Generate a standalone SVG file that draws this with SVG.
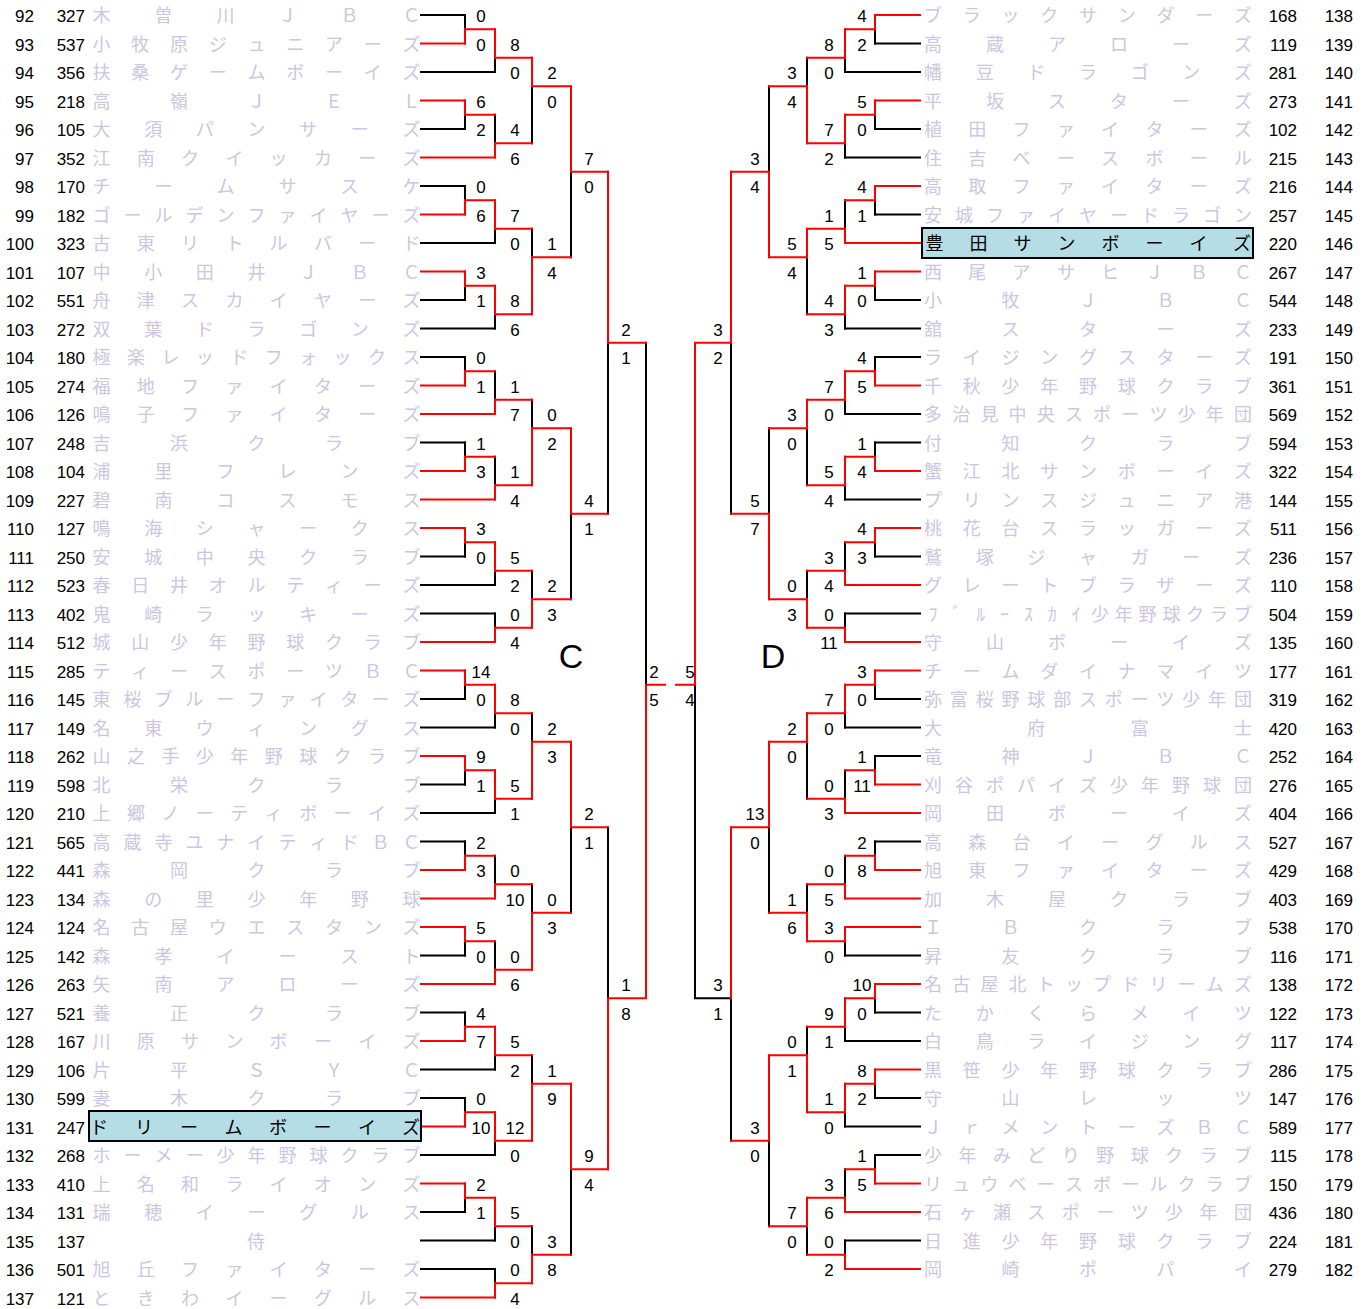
<svg xmlns="http://www.w3.org/2000/svg" width="1370" height="1309" viewBox="0 0 1370 1309">
<style>
.no{font-family:"Liberation Sans",Arial,sans-serif;font-size:17px;fill:#000;text-anchor:end}
.nm{font-family:"Noto Sans CJK JP","Noto Sans CJK SC",sans-serif;font-size:18px;fill:#cdc5e1;text-anchor:middle}
.nm.hl{fill:#000}
.sc{font-family:"Liberation Sans",Arial,sans-serif;font-size:17px;fill:#000;text-anchor:middle}
.blk{stroke:#000;stroke-width:2;fill:none;stroke-linecap:square}
.red{stroke:#f00;stroke-width:2;fill:none;stroke-linecap:square}
.box{fill:#b5dde6;stroke:#000;stroke-width:2}
.big{font-family:"Liberation Sans",Arial,sans-serif;font-size:34px;fill:#000;text-anchor:middle}
</style>
<rect width="1370" height="1309" fill="#fff"/>
<g id="connectors">
<path class="blk" d="M421 15H465M421 72H495M421 129H465M421 186H465M421 243H495M421 300H465M421 328.5H495M421 357H465M421 442.5H465M421 556.5H465M421 585H495M421 613.5H495M421 699H465M421 727.5H495M421 784.5H465M421 813H495M421 841.5H465M421 955.5H465M421 1012.5H465M421 1069.5H495M421 1098H465M421 1155H495M421 1212H465M421 1240.5H495M421 1269H495"/>
<path class="blk" d="M465 15V29.25M465 114.75V129M465 186V200.25M465 285.75V300M465 357V371.25M465 442.5V456.75M465 542.25V556.5M465 684.75V699M465 770.25V784.5M465 841.5V855.75M465 941.25V955.5M465 1012.5V1026.75M465 1098V1112.25M465 1197.75V1212"/>
<path class="blk" d="M495 57.75V72M495 114.75V143.25M495 228.75V243M495 314.25V328.5M495 371.25V399.75M495 456.75V485.25M495 570.75V585M495 613.5V627.75M495 713.25V727.5M495 798.75V813M495 855.75V884.25M495 941.25V969.75M495 1055.25V1069.5M495 1140.75V1155M495 1226.25V1240.5M495 1269V1283.25"/>
<path class="blk" d="M532 86.25V143.25M532 228.75V257.25M532 399.75V428.25M532 570.75V599.25M532 713.25V741.75M532 884.25V912.75M532 1055.25V1083.75M532 1226.25V1254.75"/>
<path class="blk" d="M571 171.75V257.25M571 513.75V599.25M571 827.25V912.75M571 1169.25V1254.75M608 342.75V513.75M608 827.25V998.25M646 342.75V684.75"/>
<path class="blk" d="M920 43.5H875M920 72H845M920 129H875M920 157.5H845M920 214.5H875M920 300H875M920 328.5H845M920 357H875M920 414H845M920 442.5H875M920 499.5H845M920 556.5H875M920 613.5H845M920 699H875M920 727.5H845M920 756H875M920 841.5H875M920 955.5H845M920 1012.5H875M920 1041H845M920 1098H875M920 1126.5H845M920 1155H875M920 1240.5H845"/>
<path class="blk" d="M875 29.25V43.5M875 114.75V129M875 200.25V214.5M875 285.75V300M875 357V371.25M875 442.5V456.75M875 542.25V556.5M875 684.75V699M875 756V770.25M875 841.5V855.75M875 998.25V1012.5M875 1083.75V1098M875 1155V1169.25"/>
<path class="blk" d="M845 57.75V72M845 143.25V157.5M845 200.25V228.75M845 314.25V328.5M845 399.75V414M845 485.25V499.5M845 542.25V570.75M845 613.5V627.75M845 713.25V727.5M845 770.25V798.75M845 855.75V884.25M845 941.25V955.5M845 1026.75V1041M845 1112.25V1126.5M845 1169.25V1197.75M845 1240.5V1254.75"/>
<path class="blk" d="M807 57.75V86.25M807 257.25V314.25M807 428.25V485.25M807 570.75V599.25M807 741.75V798.75M807 884.25V912.75M807 1026.75V1055.25M807 1226.25V1254.75"/>
<path class="blk" d="M769 86.25V171.75M769 428.25V513.75M769 827.25V912.75M769 1140.75V1226.25M731 342.75V513.75M731 998.25V1140.75M731 998.25H695M695 684.75V998.25"/>
<path class="red" d="M421 43.5H465M421 100.5H465M421 157.5H495M421 214.5H465M421 271.5H465M421 385.5H465M421 414H495M421 471H465M421 499.5H495M421 528H465M421 642H495M421 670.5H465M421 756H465M421 870H465M421 898.5H495M421 927H465M421 984H495M421 1041H465M421 1126.5H465M421 1183.5H465M421 1297.5H495"/>
<path class="red" d="M465 29.25V43.5M465 100.5V114.75M465 200.25V214.5M465 271.5V285.75M465 371.25V385.5M465 456.75V471M465 528V542.25M465 670.5V684.75M465 756V770.25M465 855.75V870M465 927V941.25M465 1026.75V1041M465 1112.25V1126.5M465 1183.5V1197.75"/>
<path class="red" d="M465 29.25H495M465 114.75H495M465 200.25H495M465 285.75H495M465 371.25H495M465 456.75H495M465 542.25H495M465 684.75H495M465 770.25H495M465 855.75H495M465 941.25H495M465 1026.75H495M465 1112.25H495M465 1197.75H495"/>
<path class="red" d="M495 29.25V57.75M495 143.25V157.5M495 200.25V228.75M495 285.75V314.25M495 399.75V414M495 485.25V499.5M495 542.25V570.75M495 627.75V642M495 684.75V713.25M495 770.25V798.75M495 884.25V898.5M495 969.75V984M495 1026.75V1055.25M495 1112.25V1140.75M495 1197.75V1226.25M495 1283.25V1297.5"/>
<path class="red" d="M495 57.75H532M495 143.25H532M495 228.75H532M495 314.25H532M495 399.75H532M495 485.25H532M495 570.75H532M495 627.75H532M495 713.25H532M495 798.75H532M495 884.25H532M495 969.75H532M495 1055.25H532M495 1140.75H532M495 1226.25H532M495 1283.25H532"/>
<path class="red" d="M532 57.75V86.25M532 257.25V314.25M532 428.25V485.25M532 599.25V627.75M532 741.75V798.75M532 912.75V969.75M532 1083.75V1140.75M532 1254.75V1283.25"/>
<path class="red" d="M532 86.25H571M532 257.25H571M532 428.25H571M532 599.25H571M532 741.75H571M532 912.75H571M532 1083.75H571M532 1254.75H571"/>
<path class="red" d="M571 86.25V171.75M571 428.25V513.75M571 741.75V827.25M571 1083.75V1169.25M571 171.75H608M571 513.75H608M571 827.25H608M571 1169.25H608"/>
<path class="red" d="M608 171.75V342.75M608 998.25V1169.25M608 342.75H646M608 998.25H646M646 684.75V998.25M646 684.75H665"/>
<path class="red" d="M920 15H875M920 100.5H875M920 186H875M920 243H845M920 271.5H875M920 385.5H875M920 471H875M920 528H875M920 585H845M920 642H845M920 670.5H875M920 784.5H875M920 813H845M920 870H875M920 898.5H845M920 927H845M920 984H875M920 1069.5H875M920 1183.5H875M920 1212H845M920 1269H845"/>
<path class="red" d="M875 15V29.25M875 100.5V114.75M875 186V200.25M875 271.5V285.75M875 371.25V385.5M875 456.75V471M875 528V542.25M875 670.5V684.75M875 770.25V784.5M875 855.75V870M875 984V998.25M875 1069.5V1083.75M875 1169.25V1183.5"/>
<path class="red" d="M875 29.25H845M875 114.75H845M875 200.25H845M875 285.75H845M875 371.25H845M875 456.75H845M875 542.25H845M875 684.75H845M875 770.25H845M875 855.75H845M875 998.25H845M875 1083.75H845M875 1169.25H845"/>
<path class="red" d="M845 29.25V57.75M845 114.75V143.25M845 228.75V243M845 285.75V314.25M845 371.25V399.75M845 456.75V485.25M845 570.75V585M845 627.75V642M845 684.75V713.25M845 798.75V813M845 884.25V898.5M845 927V941.25M845 998.25V1026.75M845 1083.75V1112.25M845 1197.75V1212M845 1254.75V1269"/>
<path class="red" d="M845 57.75H807M845 143.25H807M845 228.75H807M845 314.25H807M845 399.75H807M845 485.25H807M845 570.75H807M845 627.75H807M845 713.25H807M845 798.75H807M845 884.25H807M845 941.25H807M845 1026.75H807M845 1112.25H807M845 1197.75H807M845 1254.75H807"/>
<path class="red" d="M807 86.25V143.25M807 228.75V257.25M807 399.75V428.25M807 599.25V627.75M807 713.25V741.75M807 912.75V941.25M807 1055.25V1112.25M807 1197.75V1226.25"/>
<path class="red" d="M807 86.25H769M807 257.25H769M807 428.25H769M807 599.25H769M807 741.75H769M807 912.75H769M807 1055.25H769M807 1226.25H769"/>
<path class="red" d="M769 171.75V257.25M769 513.75V599.25M769 741.75V827.25M769 1055.25V1140.75M769 171.75H731M769 513.75H731M769 827.25H731M769 1140.75H731"/>
<path class="red" d="M731 171.75V342.75M731 827.25V998.25M731 342.75H695M695 342.75V684.75M695 684.75H676"/>
</g>
<g id="scores">
<text class="sc" x="481" y="22">0</text><text class="sc" x="481" y="50.5">0</text><text class="sc" x="481" y="107.5">6</text><text class="sc" x="481" y="136">2</text><text class="sc" x="481" y="193">0</text><text class="sc" x="481" y="221.5">6</text><text class="sc" x="481" y="278.5">3</text><text class="sc" x="481" y="307">1</text><text class="sc" x="481" y="364">0</text><text class="sc" x="481" y="392.5">1</text><text class="sc" x="481" y="449.5">1</text><text class="sc" x="481" y="478">3</text><text class="sc" x="481" y="535">3</text><text class="sc" x="481" y="563.5">0</text><text class="sc" x="481" y="677.5">14</text><text class="sc" x="481" y="706">0</text><text class="sc" x="481" y="763">9</text><text class="sc" x="481" y="791.5">1</text><text class="sc" x="481" y="848.5">2</text><text class="sc" x="481" y="877">3</text><text class="sc" x="481" y="934">5</text><text class="sc" x="481" y="962.5">0</text><text class="sc" x="481" y="1019.5">4</text><text class="sc" x="481" y="1048">7</text><text class="sc" x="481" y="1105">0</text><text class="sc" x="481" y="1133.5">10</text><text class="sc" x="481" y="1190.5">2</text><text class="sc" x="481" y="1219">1</text>
<text class="sc" x="515" y="50.5">8</text><text class="sc" x="515" y="79">0</text><text class="sc" x="515" y="136">4</text><text class="sc" x="515" y="164.5">6</text><text class="sc" x="515" y="221.5">7</text><text class="sc" x="515" y="250">0</text><text class="sc" x="515" y="307">8</text><text class="sc" x="515" y="335.5">6</text><text class="sc" x="515" y="392.5">1</text><text class="sc" x="515" y="421">7</text><text class="sc" x="515" y="478">1</text><text class="sc" x="515" y="506.5">4</text><text class="sc" x="515" y="563.5">5</text><text class="sc" x="515" y="592">2</text><text class="sc" x="515" y="620.5">0</text><text class="sc" x="515" y="649">4</text><text class="sc" x="515" y="706">8</text><text class="sc" x="515" y="734.5">0</text><text class="sc" x="515" y="791.5">5</text><text class="sc" x="515" y="820">1</text><text class="sc" x="515" y="877">0</text><text class="sc" x="515" y="905.5">10</text><text class="sc" x="515" y="962.5">0</text><text class="sc" x="515" y="991">6</text><text class="sc" x="515" y="1048">5</text><text class="sc" x="515" y="1076.5">2</text><text class="sc" x="515" y="1133.5">12</text><text class="sc" x="515" y="1162">0</text><text class="sc" x="515" y="1219">5</text><text class="sc" x="515" y="1247.5">0</text><text class="sc" x="515" y="1276">0</text><text class="sc" x="515" y="1304.5">4</text>
<text class="sc" x="552" y="79">2</text><text class="sc" x="552" y="107.5">0</text><text class="sc" x="552" y="250">1</text><text class="sc" x="552" y="278.5">4</text><text class="sc" x="552" y="421">0</text><text class="sc" x="552" y="449.5">2</text><text class="sc" x="552" y="592">2</text><text class="sc" x="552" y="620.5">3</text><text class="sc" x="552" y="734.5">2</text><text class="sc" x="552" y="763">3</text><text class="sc" x="552" y="905.5">0</text><text class="sc" x="552" y="934">3</text><text class="sc" x="552" y="1076.5">1</text><text class="sc" x="552" y="1105">9</text><text class="sc" x="552" y="1247.5">3</text><text class="sc" x="552" y="1276">8</text>
<text class="sc" x="589" y="164.5">7</text><text class="sc" x="589" y="193">0</text><text class="sc" x="589" y="506.5">4</text><text class="sc" x="589" y="535">1</text><text class="sc" x="589" y="820">2</text><text class="sc" x="589" y="848.5">1</text><text class="sc" x="589" y="1162">9</text><text class="sc" x="589" y="1190.5">4</text>
<text class="sc" x="626" y="335.5">2</text><text class="sc" x="626" y="364">1</text><text class="sc" x="626" y="991">1</text><text class="sc" x="626" y="1019.5">8</text>
<text class="sc" x="654" y="677.5">2</text><text class="sc" x="654" y="706">5</text>
<text class="sc" x="862" y="22">4</text><text class="sc" x="862" y="50.5">2</text><text class="sc" x="862" y="107.5">5</text><text class="sc" x="862" y="136">0</text><text class="sc" x="862" y="193">4</text><text class="sc" x="862" y="221.5">1</text><text class="sc" x="862" y="278.5">1</text><text class="sc" x="862" y="307">0</text><text class="sc" x="862" y="364">4</text><text class="sc" x="862" y="392.5">5</text><text class="sc" x="862" y="449.5">1</text><text class="sc" x="862" y="478">4</text><text class="sc" x="862" y="535">4</text><text class="sc" x="862" y="563.5">3</text><text class="sc" x="862" y="677.5">3</text><text class="sc" x="862" y="706">0</text><text class="sc" x="862" y="763">1</text><text class="sc" x="862" y="791.5">11</text><text class="sc" x="862" y="848.5">2</text><text class="sc" x="862" y="877">8</text><text class="sc" x="862" y="991">10</text><text class="sc" x="862" y="1019.5">0</text><text class="sc" x="862" y="1076.5">8</text><text class="sc" x="862" y="1105">2</text><text class="sc" x="862" y="1162">1</text><text class="sc" x="862" y="1190.5">5</text>
<text class="sc" x="829" y="50.5">8</text><text class="sc" x="829" y="79">0</text><text class="sc" x="829" y="136">7</text><text class="sc" x="829" y="164.5">2</text><text class="sc" x="829" y="221.5">1</text><text class="sc" x="829" y="250">5</text><text class="sc" x="829" y="307">4</text><text class="sc" x="829" y="335.5">3</text><text class="sc" x="829" y="392.5">7</text><text class="sc" x="829" y="421">0</text><text class="sc" x="829" y="478">5</text><text class="sc" x="829" y="506.5">4</text><text class="sc" x="829" y="563.5">3</text><text class="sc" x="829" y="592">4</text><text class="sc" x="829" y="620.5">0</text><text class="sc" x="829" y="649">11</text><text class="sc" x="829" y="706">7</text><text class="sc" x="829" y="734.5">0</text><text class="sc" x="829" y="791.5">0</text><text class="sc" x="829" y="820">3</text><text class="sc" x="829" y="877">0</text><text class="sc" x="829" y="905.5">5</text><text class="sc" x="829" y="934">3</text><text class="sc" x="829" y="962.5">0</text><text class="sc" x="829" y="1019.5">9</text><text class="sc" x="829" y="1048">1</text><text class="sc" x="829" y="1105">1</text><text class="sc" x="829" y="1133.5">0</text><text class="sc" x="829" y="1190.5">3</text><text class="sc" x="829" y="1219">6</text><text class="sc" x="829" y="1247.5">0</text><text class="sc" x="829" y="1276">2</text>
<text class="sc" x="792" y="79">3</text><text class="sc" x="792" y="107.5">4</text><text class="sc" x="792" y="250">5</text><text class="sc" x="792" y="278.5">4</text><text class="sc" x="792" y="421">3</text><text class="sc" x="792" y="449.5">0</text><text class="sc" x="792" y="592">0</text><text class="sc" x="792" y="620.5">3</text><text class="sc" x="792" y="734.5">2</text><text class="sc" x="792" y="763">0</text><text class="sc" x="792" y="905.5">1</text><text class="sc" x="792" y="934">6</text><text class="sc" x="792" y="1048">0</text><text class="sc" x="792" y="1076.5">1</text><text class="sc" x="792" y="1219">7</text><text class="sc" x="792" y="1247.5">0</text>
<text class="sc" x="755" y="164.5">3</text><text class="sc" x="755" y="193">4</text><text class="sc" x="755" y="506.5">5</text><text class="sc" x="755" y="535">7</text><text class="sc" x="755" y="820">13</text><text class="sc" x="755" y="848.5">0</text><text class="sc" x="755" y="1133.5">3</text><text class="sc" x="755" y="1162">0</text>
<text class="sc" x="718" y="335.5">3</text><text class="sc" x="718" y="364">2</text><text class="sc" x="718" y="991">3</text><text class="sc" x="718" y="1019.5">1</text>
<text class="sc" x="690" y="677.5">5</text><text class="sc" x="690" y="706">4</text>
</g>
<text class="big" x="571" y="668">C</text>
<text class="big" x="773" y="668">D</text>
<g id="left-teams">
<g id="t92"><text class="no" x="34" y="22">92</text><text class="no" x="85" y="22">327</text><text class="nm" x="101.5 163.5 225.5 287.5 349.5 411.5" y="22">木曽川ＪＢＣ</text></g>
<g id="t93"><text class="no" x="34" y="50.5">93</text><text class="no" x="85" y="50.5">537</text><text class="nm" x="101.5 140.3 179 217.8 256.5 295.3 334 372.8 411.5" y="50.5">小牧原ジュニアーズ</text></g>
<g id="t94"><text class="no" x="34" y="79">94</text><text class="no" x="85" y="79">356</text><text class="nm" x="101.5 140.3 179 217.8 256.5 295.3 334 372.8 411.5" y="79">扶桑ゲームボーイズ</text></g>
<g id="t95"><text class="no" x="34" y="107.5">95</text><text class="no" x="85" y="107.5">218</text><text class="nm" x="101.5 179 256.5 334 411.5" y="107.5">高嶺ＪＥＬ</text></g>
<g id="t96"><text class="no" x="34" y="136">96</text><text class="no" x="85" y="136">105</text><text class="nm" x="101.5 153.2 204.8 256.5 308.2 359.8 411.5" y="136">大須パンサーズ</text></g>
<g id="t97"><text class="no" x="34" y="164.5">97</text><text class="no" x="85" y="164.5">352</text><text class="nm" x="101.5 145.8 190.1 234.4 278.6 322.9 367.2 411.5" y="164.5">江南クイッカーズ</text></g>
<g id="t98"><text class="no" x="34" y="193">98</text><text class="no" x="85" y="193">170</text><text class="nm" x="101.5 163.5 225.5 287.5 349.5 411.5" y="193">チームサスケ</text></g>
<g id="t99"><text class="no" x="34" y="221.5">99</text><text class="no" x="85" y="221.5">182</text><text class="nm" x="101.5 132.5 163.5 194.5 225.5 256.5 287.5 318.5 349.5 380.5 411.5" y="221.5">ゴールデンファイヤーズ</text></g>
<g id="t100"><text class="no" x="34" y="250">100</text><text class="no" x="85" y="250">323</text><text class="nm" x="101.5 145.8 190.1 234.4 278.6 322.9 367.2 411.5" y="250">古東リトルバード</text></g>
<g id="t101"><text class="no" x="34" y="278.5">101</text><text class="no" x="85" y="278.5">107</text><text class="nm" x="101.5 153.2 204.8 256.5 308.2 359.8 411.5" y="278.5">中小田井ＪＢＣ</text></g>
<g id="t102"><text class="no" x="34" y="307">102</text><text class="no" x="85" y="307">551</text><text class="nm" x="101.5 145.8 190.1 234.4 278.6 322.9 367.2 411.5" y="307">舟津スカイヤーズ</text></g>
<g id="t103"><text class="no" x="34" y="335.5">103</text><text class="no" x="85" y="335.5">272</text><text class="nm" x="101.5 153.2 204.8 256.5 308.2 359.8 411.5" y="335.5">双葉ドラゴンズ</text></g>
<g id="t104"><text class="no" x="34" y="364">104</text><text class="no" x="85" y="364">180</text><text class="nm" x="101.5 135.9 170.4 204.8 239.3 273.7 308.2 342.6 377.1 411.5" y="364">極楽レッドフォックス</text></g>
<g id="t105"><text class="no" x="34" y="392.5">105</text><text class="no" x="85" y="392.5">274</text><text class="nm" x="101.5 145.8 190.1 234.4 278.6 322.9 367.2 411.5" y="392.5">福地ファイターズ</text></g>
<g id="t106"><text class="no" x="34" y="421">106</text><text class="no" x="85" y="421">126</text><text class="nm" x="101.5 145.8 190.1 234.4 278.6 322.9 367.2 411.5" y="421">鳴子ファイターズ</text></g>
<g id="t107"><text class="no" x="34" y="449.5">107</text><text class="no" x="85" y="449.5">248</text><text class="nm" x="101.5 179 256.5 334 411.5" y="449.5">吉浜クラブ</text></g>
<g id="t108"><text class="no" x="34" y="478">108</text><text class="no" x="85" y="478">104</text><text class="nm" x="101.5 163.5 225.5 287.5 349.5 411.5" y="478">浦里フレンズ</text></g>
<g id="t109"><text class="no" x="34" y="506.5">109</text><text class="no" x="85" y="506.5">227</text><text class="nm" x="101.5 163.5 225.5 287.5 349.5 411.5" y="506.5">碧南コスモス</text></g>
<g id="t110"><text class="no" x="34" y="535">110</text><text class="no" x="85" y="535">127</text><text class="nm" x="101.5 153.2 204.8 256.5 308.2 359.8 411.5" y="535">鳴海シャークス</text></g>
<g id="t111"><text class="no" x="34" y="563.5">111</text><text class="no" x="85" y="563.5">250</text><text class="nm" x="101.5 153.2 204.8 256.5 308.2 359.8 411.5" y="563.5">安城中央クラブ</text></g>
<g id="t112"><text class="no" x="34" y="592">112</text><text class="no" x="85" y="592">523</text><text class="nm" x="101.5 140.3 179 217.8 256.5 295.3 334 372.8 411.5" y="592">春日井オルティーズ</text></g>
<g id="t113"><text class="no" x="34" y="620.5">113</text><text class="no" x="85" y="620.5">402</text><text class="nm" x="101.5 153.2 204.8 256.5 308.2 359.8 411.5" y="620.5">鬼崎ラッキーズ</text></g>
<g id="t114"><text class="no" x="34" y="649">114</text><text class="no" x="85" y="649">512</text><text class="nm" x="101.5 140.3 179 217.8 256.5 295.3 334 372.8 411.5" y="649">城山少年野球クラブ</text></g>
<g id="t115"><text class="no" x="34" y="677.5">115</text><text class="no" x="85" y="677.5">285</text><text class="nm" x="101.5 140.3 179 217.8 256.5 295.3 334 372.8 411.5" y="677.5">ティースポーツＢＣ</text></g>
<g id="t116"><text class="no" x="34" y="706">116</text><text class="no" x="85" y="706">145</text><text class="nm" x="101.5 132.5 163.5 194.5 225.5 256.5 287.5 318.5 349.5 380.5 411.5" y="706">東桜ブルーファイターズ</text></g>
<g id="t117"><text class="no" x="34" y="734.5">117</text><text class="no" x="85" y="734.5">149</text><text class="nm" x="101.5 153.2 204.8 256.5 308.2 359.8 411.5" y="734.5">名東ウィングス</text></g>
<g id="t118"><text class="no" x="34" y="763">118</text><text class="no" x="85" y="763">262</text><text class="nm" x="101.5 135.9 170.4 204.8 239.3 273.7 308.2 342.6 377.1 411.5" y="763">山之手少年野球クラブ</text></g>
<g id="t119"><text class="no" x="34" y="791.5">119</text><text class="no" x="85" y="791.5">598</text><text class="nm" x="101.5 179 256.5 334 411.5" y="791.5">北栄クラブ</text></g>
<g id="t120"><text class="no" x="34" y="820">120</text><text class="no" x="85" y="820">210</text><text class="nm" x="101.5 135.9 170.4 204.8 239.3 273.7 308.2 342.6 377.1 411.5" y="820">上郷ノーティボーイズ</text></g>
<g id="t121"><text class="no" x="34" y="848.5">121</text><text class="no" x="85" y="848.5">565</text><text class="nm" x="101.5 132.5 163.5 194.5 225.5 256.5 287.5 318.5 349.5 380.5 411.5" y="848.5">高蔵寺ユナイティドＢＣ</text></g>
<g id="t122"><text class="no" x="34" y="877">122</text><text class="no" x="85" y="877">441</text><text class="nm" x="101.5 179 256.5 334 411.5" y="877">森岡クラブ</text></g>
<g id="t123"><text class="no" x="34" y="905.5">123</text><text class="no" x="85" y="905.5">134</text><text class="nm" x="101.5 153.2 204.8 256.5 308.2 359.8 411.5" y="905.5">森の里少年野球</text></g>
<g id="t124"><text class="no" x="34" y="934">124</text><text class="no" x="85" y="934">124</text><text class="nm" x="101.5 140.3 179 217.8 256.5 295.3 334 372.8 411.5" y="934">名古屋ウエスタンズ</text></g>
<g id="t125"><text class="no" x="34" y="962.5">125</text><text class="no" x="85" y="962.5">142</text><text class="nm" x="101.5 163.5 225.5 287.5 349.5 411.5" y="962.5">森孝イースト</text></g>
<g id="t126"><text class="no" x="34" y="991">126</text><text class="no" x="85" y="991">263</text><text class="nm" x="101.5 163.5 225.5 287.5 349.5 411.5" y="991">矢南アローズ</text></g>
<g id="t127"><text class="no" x="34" y="1019.5">127</text><text class="no" x="85" y="1019.5">521</text><text class="nm" x="101.5 179 256.5 334 411.5" y="1019.5">養正クラブ</text></g>
<g id="t128"><text class="no" x="34" y="1048">128</text><text class="no" x="85" y="1048">167</text><text class="nm" x="101.5 145.8 190.1 234.4 278.6 322.9 367.2 411.5" y="1048">川原サンボーイズ</text></g>
<g id="t129"><text class="no" x="34" y="1076.5">129</text><text class="no" x="85" y="1076.5">106</text><text class="nm" x="101.5 179 256.5 334 411.5" y="1076.5">片平ＳＹＣ</text></g>
<g id="t130"><text class="no" x="34" y="1105">130</text><text class="no" x="85" y="1105">599</text><text class="nm" x="101.5 179 256.5 334 411.5" y="1105">妻木クラブ</text></g>
<g id="t131"><text class="no" x="34" y="1133.5">131</text><text class="no" x="85" y="1133.5">247</text><rect class="box" x="89" y="1111" width="332" height="30"/><text class="nm hl" x="99 144 189 233.5 278 322.5 367 411" y="1133.5">ドリームボーイズ</text></g>
<g id="t132"><text class="no" x="34" y="1162">132</text><text class="no" x="85" y="1162">268</text><text class="nm" x="101.5 132.5 163.5 194.5 225.5 256.5 287.5 318.5 349.5 380.5 411.5" y="1162">ホーメー少年野球クラブ</text></g>
<g id="t133"><text class="no" x="34" y="1190.5">133</text><text class="no" x="85" y="1190.5">410</text><text class="nm" x="101.5 145.8 190.1 234.4 278.6 322.9 367.2 411.5" y="1190.5">上名和ライオンズ</text></g>
<g id="t134"><text class="no" x="34" y="1219">134</text><text class="no" x="85" y="1219">131</text><text class="nm" x="101.5 153.2 204.8 256.5 308.2 359.8 411.5" y="1219">瑞穂イーグルス</text></g>
<g id="t135"><text class="no" x="34" y="1247.5">135</text><text class="no" x="85" y="1247.5">137</text><text class="nm" x="256" y="1247.5">侍</text></g>
<g id="t136"><text class="no" x="34" y="1276">136</text><text class="no" x="85" y="1276">501</text><text class="nm" x="101.5 145.8 190.1 234.4 278.6 322.9 367.2 411.5" y="1276">旭丘ファイターズ</text></g>
<g id="t137"><text class="no" x="34" y="1304.5">137</text><text class="no" x="85" y="1304.5">121</text><text class="nm" x="101.5 145.8 190.1 234.4 278.6 322.9 367.2 411.5" y="1304.5">ときわイーグルス</text></g>
</g>
<g id="right-teams">
<g id="t138"><text class="nm" x="933 971.8 1010.5 1049.3 1088 1126.8 1165.5 1204.3 1243" y="22">ブラックサンダーズ</text><text class="no" x="1297" y="22">168</text><text class="no" x="1353" y="22">138</text></g>
<g id="t139"><text class="nm" x="933 995 1057 1119 1181 1243" y="50.5">高蔵アローズ</text><text class="no" x="1297" y="50.5">119</text><text class="no" x="1353" y="50.5">139</text></g>
<g id="t140"><text class="nm" x="933 984.7 1036.3 1088 1139.7 1191.3 1243" y="79">幡豆ドラゴンズ</text><text class="no" x="1297" y="79">281</text><text class="no" x="1353" y="79">140</text></g>
<g id="t141"><text class="nm" x="933 995 1057 1119 1181 1243" y="107.5">平坂スターズ</text><text class="no" x="1297" y="107.5">273</text><text class="no" x="1353" y="107.5">141</text></g>
<g id="t142"><text class="nm" x="933 977.3 1021.6 1065.9 1110.1 1154.4 1198.7 1243" y="136">植田ファイターズ</text><text class="no" x="1297" y="136">102</text><text class="no" x="1353" y="136">142</text></g>
<g id="t143"><text class="nm" x="933 977.3 1021.6 1065.9 1110.1 1154.4 1198.7 1243" y="164.5">住吉ベースボール</text><text class="no" x="1297" y="164.5">215</text><text class="no" x="1353" y="164.5">143</text></g>
<g id="t144"><text class="nm" x="933 977.3 1021.6 1065.9 1110.1 1154.4 1198.7 1243" y="193">高取ファイターズ</text><text class="no" x="1297" y="193">216</text><text class="no" x="1353" y="193">144</text></g>
<g id="t145"><text class="nm" x="933 964 995 1026 1057 1088 1119 1150 1181 1212 1243" y="221.5">安城ファイヤードラゴン</text><text class="no" x="1297" y="221.5">257</text><text class="no" x="1353" y="221.5">145</text></g>
<g id="t146"><rect class="box" x="922" y="228" width="331" height="30"/><text class="nm hl" x="934.5 978.5 1022.5 1066.5 1110.5 1154.5 1198.5 1242" y="250">豊田サンボーイズ</text><text class="no" x="1297" y="250">220</text><text class="no" x="1353" y="250">146</text></g>
<g id="t147"><text class="nm" x="933 977.3 1021.6 1065.9 1110.1 1154.4 1198.7 1243" y="278.5">西尾アサヒＪＢＣ</text><text class="no" x="1297" y="278.5">267</text><text class="no" x="1353" y="278.5">147</text></g>
<g id="t148"><text class="nm" x="933 1010.5 1088 1165.5 1243" y="307">小牧ＪＢＣ</text><text class="no" x="1297" y="307">544</text><text class="no" x="1353" y="307">148</text></g>
<g id="t149"><text class="nm" x="933 1010.5 1088 1165.5 1243" y="335.5">舘スターズ</text><text class="no" x="1297" y="335.5">233</text><text class="no" x="1353" y="335.5">149</text></g>
<g id="t150"><text class="nm" x="933 971.8 1010.5 1049.3 1088 1126.8 1165.5 1204.3 1243" y="364">ライジングスターズ</text><text class="no" x="1297" y="364">191</text><text class="no" x="1353" y="364">150</text></g>
<g id="t151"><text class="nm" x="933 971.8 1010.5 1049.3 1088 1126.8 1165.5 1204.3 1243" y="392.5">千秋少年野球クラブ</text><text class="no" x="1297" y="392.5">361</text><text class="no" x="1353" y="392.5">151</text></g>
<g id="t152"><text class="nm" x="933 961.2 989.4 1017.5 1045.7 1073.9 1102.1 1130.3 1158.4 1186.6 1214.8 1243" y="421">多治見中央スポーツ少年団</text><text class="no" x="1297" y="421">569</text><text class="no" x="1353" y="421">152</text></g>
<g id="t153"><text class="nm" x="933 1010.5 1088 1165.5 1243" y="449.5">付知クラブ</text><text class="no" x="1297" y="449.5">594</text><text class="no" x="1353" y="449.5">153</text></g>
<g id="t154"><text class="nm" x="933 971.8 1010.5 1049.3 1088 1126.8 1165.5 1204.3 1243" y="478">蟹江北サンボーイズ</text><text class="no" x="1297" y="478">322</text><text class="no" x="1353" y="478">154</text></g>
<g id="t155"><text class="nm" x="933 971.8 1010.5 1049.3 1088 1126.8 1165.5 1204.3 1243" y="506.5">プリンスジュニア港</text><text class="no" x="1297" y="506.5">144</text><text class="no" x="1353" y="506.5">155</text></g>
<g id="t156"><text class="nm" x="933 971.8 1010.5 1049.3 1088 1126.8 1165.5 1204.3 1243" y="535">桃花台スラッガーズ</text><text class="no" x="1297" y="535">511</text><text class="no" x="1353" y="535">156</text></g>
<g id="t157"><text class="nm" x="933 984.7 1036.3 1088 1139.7 1191.3 1243" y="563.5">鷲塚ジャガーズ</text><text class="no" x="1297" y="563.5">236</text><text class="no" x="1353" y="563.5">157</text></g>
<g id="t158"><text class="nm" x="933 971.8 1010.5 1049.3 1088 1126.8 1165.5 1204.3 1243" y="592">グレートブラザーズ</text><text class="no" x="1297" y="592">110</text><text class="no" x="1353" y="592">158</text></g>
<g id="t159"><text class="nm" x="933 956.8 980.7 1004.5 1028.4 1052.2 1076.1 1099.9 1123.8 1147.6 1171.4 1195.3 1219.1 1243" y="620.5">ﾌﾞﾙｰｽｶｲ少年野球クラブ</text><text class="no" x="1297" y="620.5">504</text><text class="no" x="1353" y="620.5">159</text></g>
<g id="t160"><text class="nm" x="933 995 1057 1119 1181 1243" y="649">守山ボーイズ</text><text class="no" x="1297" y="649">135</text><text class="no" x="1353" y="649">160</text></g>
<g id="t161"><text class="nm" x="933 971.8 1010.5 1049.3 1088 1126.8 1165.5 1204.3 1243" y="677.5">チームダイナマイツ</text><text class="no" x="1297" y="677.5">177</text><text class="no" x="1353" y="677.5">161</text></g>
<g id="t162"><text class="nm" x="933 958.8 984.7 1010.5 1036.3 1062.2 1088 1113.8 1139.7 1165.5 1191.3 1217.2 1243" y="706">弥富桜野球部スポーツ少年団</text><text class="no" x="1297" y="706">319</text><text class="no" x="1353" y="706">162</text></g>
<g id="t163"><text class="nm" x="933 1036.3 1139.7 1243" y="734.5">大府富士</text><text class="no" x="1297" y="734.5">420</text><text class="no" x="1353" y="734.5">163</text></g>
<g id="t164"><text class="nm" x="933 1010.5 1088 1165.5 1243" y="763">竜神ＪＢＣ</text><text class="no" x="1297" y="763">252</text><text class="no" x="1353" y="763">164</text></g>
<g id="t165"><text class="nm" x="933 964 995 1026 1057 1088 1119 1150 1181 1212 1243" y="791.5">刈谷ポパイズ少年野球団</text><text class="no" x="1297" y="791.5">276</text><text class="no" x="1353" y="791.5">165</text></g>
<g id="t166"><text class="nm" x="933 995 1057 1119 1181 1243" y="820">岡田ボーイズ</text><text class="no" x="1297" y="820">404</text><text class="no" x="1353" y="820">166</text></g>
<g id="t167"><text class="nm" x="933 977.3 1021.6 1065.9 1110.1 1154.4 1198.7 1243" y="848.5">高森台イーグルス</text><text class="no" x="1297" y="848.5">527</text><text class="no" x="1353" y="848.5">167</text></g>
<g id="t168"><text class="nm" x="933 977.3 1021.6 1065.9 1110.1 1154.4 1198.7 1243" y="877">旭東ファイターズ</text><text class="no" x="1297" y="877">429</text><text class="no" x="1353" y="877">168</text></g>
<g id="t169"><text class="nm" x="933 995 1057 1119 1181 1243" y="905.5">加木屋クラブ</text><text class="no" x="1297" y="905.5">403</text><text class="no" x="1353" y="905.5">169</text></g>
<g id="t170"><text class="nm" x="933 1010.5 1088 1165.5 1243" y="934">ＩＢクラブ</text><text class="no" x="1297" y="934">538</text><text class="no" x="1353" y="934">170</text></g>
<g id="t171"><text class="nm" x="933 1010.5 1088 1165.5 1243" y="962.5">昇友クラブ</text><text class="no" x="1297" y="962.5">116</text><text class="no" x="1353" y="962.5">171</text></g>
<g id="t172"><text class="nm" x="933 961.2 989.4 1017.5 1045.7 1073.9 1102.1 1130.3 1158.4 1186.6 1214.8 1243" y="991">名古屋北トップドリームズ</text><text class="no" x="1297" y="991">138</text><text class="no" x="1353" y="991">172</text></g>
<g id="t173"><text class="nm" x="933 984.7 1036.3 1088 1139.7 1191.3 1243" y="1019.5">たかくらメイツ</text><text class="no" x="1297" y="1019.5">122</text><text class="no" x="1353" y="1019.5">173</text></g>
<g id="t174"><text class="nm" x="933 984.7 1036.3 1088 1139.7 1191.3 1243" y="1048">白鳥ライジング</text><text class="no" x="1297" y="1048">117</text><text class="no" x="1353" y="1048">174</text></g>
<g id="t175"><text class="nm" x="933 971.8 1010.5 1049.3 1088 1126.8 1165.5 1204.3 1243" y="1076.5">黒笹少年野球クラブ</text><text class="no" x="1297" y="1076.5">286</text><text class="no" x="1353" y="1076.5">175</text></g>
<g id="t176"><text class="nm" x="933 1010.5 1088 1165.5 1243" y="1105">守山レッツ</text><text class="no" x="1297" y="1105">147</text><text class="no" x="1353" y="1105">176</text></g>
<g id="t177"><text class="nm" x="933 971.8 1010.5 1049.3 1088 1126.8 1165.5 1204.3 1243" y="1133.5">ＪｒメントーズＢＣ</text><text class="no" x="1297" y="1133.5">589</text><text class="no" x="1353" y="1133.5">177</text></g>
<g id="t178"><text class="nm" x="933 967.4 1001.9 1036.3 1070.8 1105.2 1139.7 1174.1 1208.6 1243" y="1162">少年みどり野球クラブ</text><text class="no" x="1297" y="1162">115</text><text class="no" x="1353" y="1162">178</text></g>
<g id="t179"><text class="nm" x="933 961.2 989.4 1017.5 1045.7 1073.9 1102.1 1130.3 1158.4 1186.6 1214.8 1243" y="1190.5">リュウベースボールクラブ</text><text class="no" x="1297" y="1190.5">150</text><text class="no" x="1353" y="1190.5">179</text></g>
<g id="t180"><text class="nm" x="933 967.4 1001.9 1036.3 1070.8 1105.2 1139.7 1174.1 1208.6 1243" y="1219">石ヶ瀬スポーツ少年団</text><text class="no" x="1297" y="1219">436</text><text class="no" x="1353" y="1219">180</text></g>
<g id="t181"><text class="nm" x="933 971.8 1010.5 1049.3 1088 1126.8 1165.5 1204.3 1243" y="1247.5">日進少年野球クラブ</text><text class="no" x="1297" y="1247.5">224</text><text class="no" x="1353" y="1247.5">181</text></g>
<g id="t182"><text class="nm" x="933 1010.5 1088 1165.5 1243" y="1276">岡崎ポパイ</text><text class="no" x="1297" y="1276">279</text><text class="no" x="1353" y="1276">182</text></g>
</g>
</svg>
